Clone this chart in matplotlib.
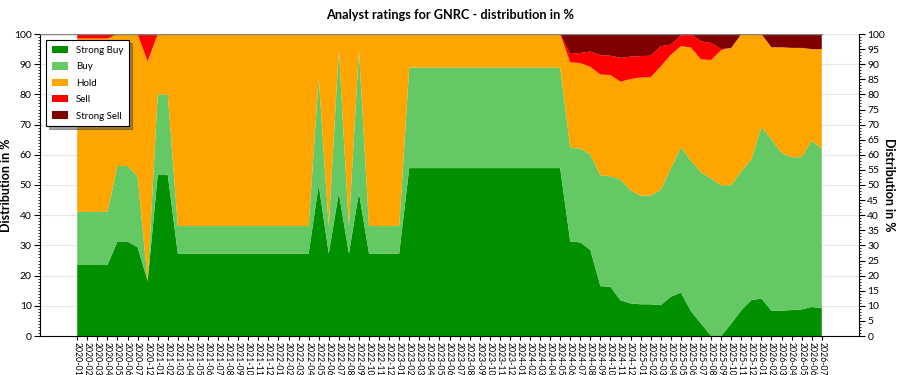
import matplotlib
import numpy as np

matplotlib.use("Agg")
import matplotlib.pyplot as plt
from matplotlib.ticker import MultipleLocator

plt.rcParams["font.family"] = ["Lato", "DejaVu Sans"]

# monthly categories (gap between 2020-07 and 2020-12 is in the source data)
MONTHS = (
    [f"2020-{m:02d}" for m in range(1, 8)]
    + ["2020-12"]
    + [f"{y}-{m:02d}" for y in range(2021, 2026) for m in range(1, 13)]
    + [f"2026-{m:02d}" for m in range(1, 8)]
)

STRONG_BUY = [
    23.5, 23.5, 23.5, 23.5, 31.3, 31.3, 29.4, 18.2, 53.3, 53.3,
    27.3, 27.3, 27.3, 27.3, 27.3, 27.3, 27.3, 27.3, 27.3, 27.3,
    27.3, 27.3, 27.3, 27.3, 50.0, 27.3, 47.4, 27.3, 47.4, 27.3,
    27.3, 27.3, 27.3, 55.6, 55.6, 55.6, 55.6, 55.6, 55.6, 55.6,
    55.6, 55.6, 55.6, 55.6, 55.6, 55.6, 55.6, 55.6, 55.6, 31.3,
    31.0, 28.5, 16.5, 16.3, 11.8, 10.8, 10.5, 10.5, 10.2, 13.0,
    14.4, 8.2, 4.1, 0.0, 0.0, 4.1, 8.5, 11.9, 12.4, 8.4,
    8.4, 8.6, 8.8, 9.6, 9.3,
]
BUY = [
    17.6, 17.6, 17.6, 17.6, 25.0, 25.0, 23.5, 0.0, 26.7, 26.7,
    9.1, 9.1, 9.1, 9.1, 9.1, 9.1, 9.1, 9.1, 9.1, 9.1,
    9.1, 9.1, 9.1, 9.1, 35.7, 9.1, 47.4, 9.1, 47.4, 9.1,
    9.1, 9.1, 9.1, 33.3, 33.3, 33.3, 33.3, 33.3, 33.3, 33.3,
    33.3, 33.3, 33.3, 33.3, 33.3, 33.3, 33.3, 33.3, 33.3, 31.0,
    31.1, 31.6, 36.7, 36.6, 40.0, 37.4, 36.0, 36.0, 38.2, 42.4,
    48.1, 49.9, 50.1, 52.1, 49.9, 45.8, 46.0, 46.5, 56.8, 56.7,
    52.2, 50.6, 50.4, 55.1, 52.8,
]
HOLD = [
    57.4, 57.4, 57.4, 57.4, 43.7, 43.7, 47.1, 72.7, 20.0, 20.0,
    63.6, 63.6, 63.6, 63.6, 63.6, 63.6, 63.6, 63.6, 63.6, 63.6,
    63.6, 63.6, 63.6, 63.6, 14.3, 63.6, 5.2, 63.6, 5.2, 63.6,
    63.6, 63.6, 63.6, 11.1, 11.1, 11.1, 11.1, 11.1, 11.1, 11.1,
    11.1, 11.1, 11.1, 11.1, 11.1, 11.1, 11.1, 11.1, 11.1, 28.3,
    28.3, 29.0, 33.4, 33.5, 32.4, 36.9, 39.1, 39.2, 40.9, 37.7,
    33.5, 37.4, 37.4, 39.3, 44.8, 45.5, 45.5, 41.6, 30.8, 30.5,
    35.0, 36.2, 36.2, 30.3, 32.9,
]
SELL = [
    1.5, 1.5, 1.5, 1.5, 0.0, 0.0, 0.0, 9.1, 0.0, 0.0,
    0.0, 0.0, 0.0, 0.0, 0.0, 0.0, 0.0, 0.0, 0.0, 0.0,
    0.0, 0.0, 0.0, 0.0, 0.0, 0.0, 0.0, 0.0, 0.0, 0.0,
    0.0, 0.0, 0.0, 0.0, 0.0, 0.0, 0.0, 0.0, 0.0, 0.0,
    0.0, 0.0, 0.0, 0.0, 0.0, 0.0, 0.0, 0.0, 0.0, 2.8,
    3.3, 5.1, 6.4, 6.4, 7.9, 7.4, 7.1, 7.1, 6.7, 3.4,
    3.5, 4.5, 6.0, 5.6, 0.3, 0.0, 0.0, 0.0, 0.0, 0.0,
    0.0, 0.0, 0.0, 0.0, 0.0,
]
STRONG_SELL = [
    0.0, 0.0, 0.0, 0.0, 0.0, 0.0, 0.0, 0.0, 0.0, 0.0,
    0.0, 0.0, 0.0, 0.0, 0.0, 0.0, 0.0, 0.0, 0.0, 0.0,
    0.0, 0.0, 0.0, 0.0, 0.0, 0.0, 0.0, 0.0, 0.0, 0.0,
    0.0, 0.0, 0.0, 0.0, 0.0, 0.0, 0.0, 0.0, 0.0, 0.0,
    0.0, 0.0, 0.0, 0.0, 0.0, 0.0, 0.0, 0.0, 0.0, 6.6,
    6.3, 5.8, 7.0, 7.2, 7.9, 7.5, 7.3, 7.2, 4.0, 3.5,
    0.5, 0.0, 2.4, 3.0, 5.0, 4.6, 0.0, 0.0, 0.0, 4.4,
    4.4, 4.6, 4.6, 5.0, 5.0,
]

LABELS = ["Strong Buy", "Buy", "Hold", "Sell", "Strong Sell"]
COLORS = ["#009000", "#64c864", "#ffa500", "#ff0000", "#800000"]

x = np.arange(len(MONTHS))
series = [STRONG_BUY, BUY, HOLD, SELL, STRONG_SELL]

fig = plt.figure(figsize=(9, 3.75), dpi=100)
ax = fig.add_axes([40 / 900, 1 - 336 / 375, 819 / 900, 302 / 375])
ax.stackplot(x, *series, colors=COLORS, labels=LABELS, lw=0, zorder=2)

ax.set_xlim(-3.7, 77.7)
ax.set_ylim(0, 100)
ax.set_xticks(x)
ax.set_xticklabels(MONTHS, rotation=-90, fontsize=6.3, va="top", ha="center")
ax.tick_params(axis="x", length=3, pad=1)
ax.yaxis.set_major_locator(MultipleLocator(10))
ax.yaxis.set_minor_locator(MultipleLocator(1))
ax.tick_params(axis="y", which="major", labelsize=7.5, length=4, pad=2)
ax.tick_params(axis="y", which="minor", length=1.5)
ax.grid(axis="y", color="#e6e6e6", lw=0.8, zorder=0)
ax.set_axisbelow(True)
for side in ("top", "right"):
    ax.spines[side].set_visible(False)
ax.axhline(100, xmax=(74 + 3.7) / (77.7 + 3.7), color="#808080", lw=1, zorder=3)
ax.set_ylabel("Distribution in %", fontsize=9, fontweight="bold")
ax.yaxis.set_label_coords(-0.034, 0.5)

ax2 = ax.twinx()
ax2.set_ylim(0, 100)
ax2.yaxis.set_major_locator(MultipleLocator(5))
ax2.yaxis.set_minor_locator(MultipleLocator(1))
ax2.tick_params(axis="y", which="major", labelsize=7.5, length=4, pad=2)
ax2.tick_params(axis="y", which="minor", length=1.5)
for side in ("top", "left", "bottom"):
    ax2.spines[side].set_visible(False)
ax2.set_ylabel("Distribution in %", fontsize=9, fontweight="bold", rotation=-90, va="center")
ax2.yaxis.set_label_coords(1.037, 0.5)

leg = ax.legend(
    loc="upper left",
    bbox_to_anchor=(0.007, 0.98),
    borderaxespad=0,
    fontsize=7,
    fancybox=False,
    shadow=True,
    edgecolor="black",
    framealpha=1,
    labelspacing=0.75,
    handlelength=1.7,
    handleheight=0.8,
    borderpad=0.6,
)
leg.get_frame().set_linewidth(0.8)
leg.set_zorder(5)

fig.suptitle("Analyst ratings for GNRC - distribution in %", fontsize=9.2, fontweight="bold", y=0.975)

fig.savefig("out.png", dpi=100)
